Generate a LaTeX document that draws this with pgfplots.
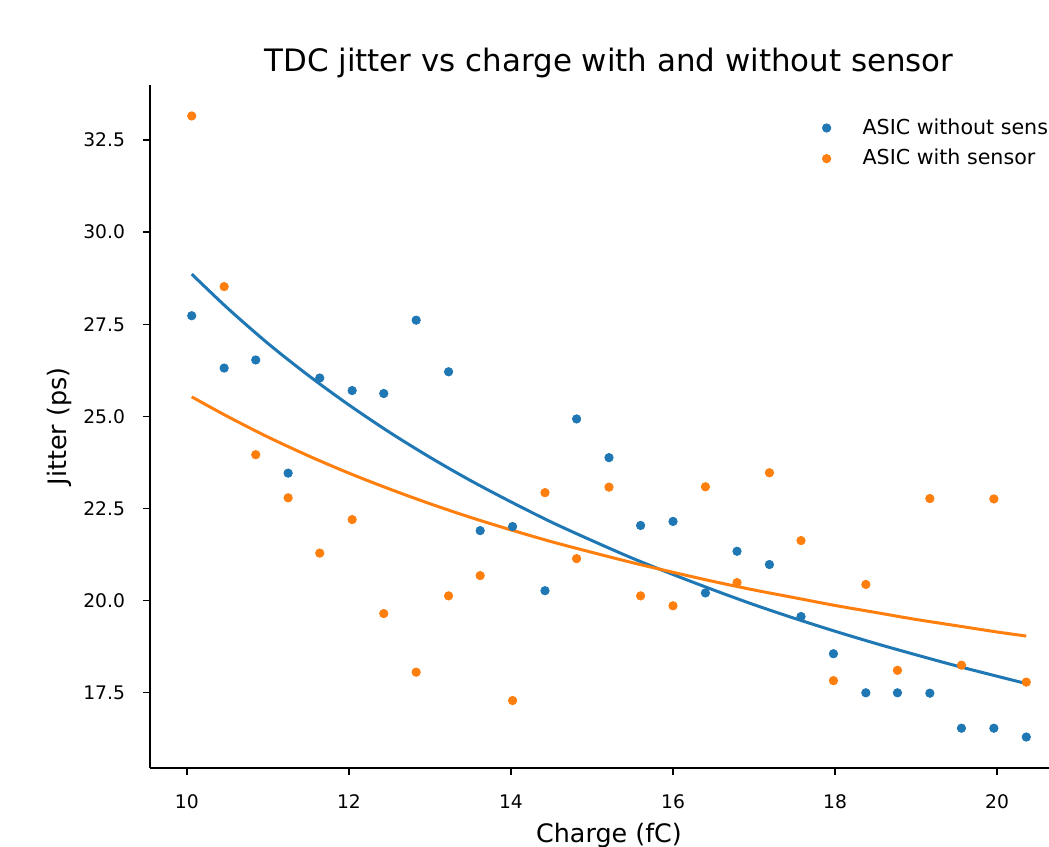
\documentclass[border=0pt]{standalone}
\usepackage{fontspec}
\setmainfont{DejaVu Sans}
\usepackage{pgfplots}
\pgfplotsset{compat=1.18}
\definecolor{tabblue}{HTML}{1F77B4}
\definecolor{taborange}{HTML}{FF7F0E}
\begin{document}
\begin{tikzpicture}
\begin{axis}[
  at={(0pt,0pt)}, anchor=south west,
  scale only axis, width=459pt, height=341.5pt,
  xmin=9.545, xmax=20.875, ymin=15.46, ymax=33.99,
  axis x line*=bottom, axis y line*=left,
  axis line style={line width=0.68pt, -},
  tick style={line width=0.68pt, black},
  tick align=outside, major tick length=3.5pt,
  xtick={10,12,...,20}, ytick={17.5,20,22.5,25,27.5,30,32.5},
  /pgf/number format/assume math mode=true,
  yticklabel style={/pgf/number format/fixed,/pgf/number format/precision=1,/pgf/number format/fixed zerofill, xshift=-5.5pt},
  xticklabel style={yshift=-6.5pt},
  ticklabel style={font=\fontsize{9.35}{11}\selectfont},
  xlabel={Charge (fC)}, ylabel={Jitter (ps)},
  label style={font=\fontsize{12.7}{15}\selectfont},
  ylabel style={yshift=-1pt},
  title={TDC jitter vs charge with and without sensor},
  title style={font=\fontsize{15.45}{18}\selectfont, yshift=-6pt},
  legend style={at={(axis description cs:0.7105,0.963)}, anchor=north west, draw=none, fill=none,
    font=\fontsize{10.3}{12}\selectfont, row sep=2pt},
  legend cell align=left,
]
\addplot[only marks, mark=*, mark size=2.1pt, color=tabblue,
  legend image code/.code={\path[draw=none,fill=none] (-9pt,-5pt) rectangle (16pt,5pt); \fill[tabblue] (0pt,0pt) circle (2.1pt);}]
  coordinates {(10.06,27.73)(10.46,26.31)(10.85,26.53)(11.25,23.46)(11.64,26.04)(12.04,25.70)(12.43,25.62)(12.83,27.61)(13.23,26.21)(13.62,21.90)(14.02,22.01)(14.42,20.27)(14.81,24.93)(15.21,23.88)(15.60,22.04)(16.00,22.15)(16.40,20.21)(16.79,21.34)(17.19,20.98)(17.58,19.57)(17.98,18.56)(18.38,17.50)(18.77,17.50)(19.17,17.49)(19.56,16.54)(19.96,16.54)(20.36,16.30)};
\addlegendentry{ASIC without sensor}
\addplot[only marks, mark=*, mark size=2.1pt, color=taborange,
  legend image code/.code={\path[draw=none,fill=none] (-9pt,-5pt) rectangle (16pt,5pt); \fill[taborange] (0pt,0pt) circle (2.1pt);}]
  coordinates {(10.06,33.15)(10.46,28.52)(10.85,23.96)(11.25,22.79)(11.64,21.29)(12.04,22.20)(12.43,19.65)(12.83,18.06)(13.23,20.13)(13.62,20.68)(14.02,17.29)(14.42,22.93)(14.81,21.14)(15.21,23.08)(15.60,20.13)(16.00,19.86)(16.40,23.09)(16.79,20.49)(17.19,23.47)(17.58,21.63)(17.98,17.83)(18.38,20.44)(18.77,18.11)(19.17,22.77)(19.56,18.25)(19.96,22.76)(20.36,17.79)};
\addlegendentry{ASIC with sensor}
\addplot[tabblue, line width=1.5pt, no marks, smooth, forget plot]
  coordinates {(10.06,28.86)(10.5,27.94)(11,26.98)(11.5,26.11)(12,25.31)(12.5,24.57)(13,23.89)(13.5,23.26)(14,22.68)(14.5,22.13)(15,21.63)(15.5,21.15)(16,20.71)(16.5,20.29)(17,19.89)(17.5,19.52)(18,19.17)(18.5,18.84)(19,18.53)(19.5,18.23)(20,17.95)(20.36,17.75)};
\addplot[taborange, line width=1.5pt, no marks, smooth, forget plot]
  coordinates {(10.06,25.53)(10.5,25.00)(11,24.44)(11.5,23.93)(12,23.46)(12.5,23.03)(13,22.63)(13.5,22.26)(14,21.92)(14.5,21.60)(15,21.31)(15.5,21.03)(16,20.77)(16.5,20.52)(17,20.29)(17.5,20.08)(18,19.87)(18.5,19.68)(19,19.49)(19.5,19.32)(20,19.15)(20.36,19.04)};
\end{axis}
\pgfresetboundingbox
\path[use as bounding box] (-75pt,-39pt) rectangle (449.5pt,384pt);
\end{tikzpicture}
\end{document}
